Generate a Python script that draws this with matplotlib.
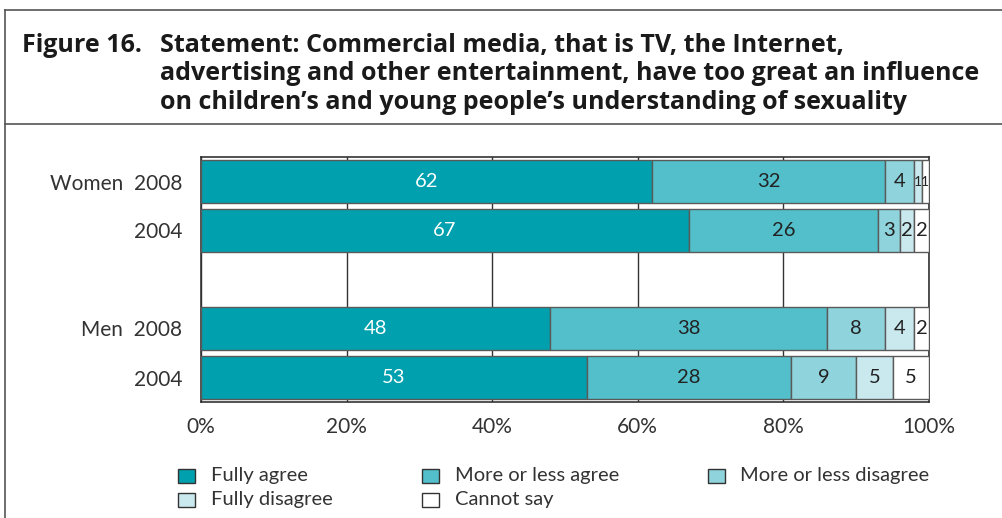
import matplotlib
matplotlib.use("Agg")
import matplotlib.pyplot as plt
from matplotlib.patches import Rectangle
from matplotlib.lines import Line2D

plt.rcParams['font.family'] = ['Lato', 'DejaVu Sans']

# Survey responses (%)
row_labels = ["Women  2008", "2004", "", "Men  2008", "2004"]
categories = ["Fully agree", "More or less agree", "More or less disagree",
              "Fully disagree", "Cannot say"]
women_2008 = [62, 32, 4, 1, 1]
women_2004 = [67, 26, 3, 2, 2]
men_2008 = [48, 38, 8, 4, 2]
men_2004 = [53, 28, 9, 5, 5]
rows = [women_2008, women_2004, None, men_2008, men_2004]

colors = ["#00a0ae", "#52bfcb", "#8fd3dc", "#c9e9ee", "#ffffff"]
label_colors = ["white", "#222222", "#222222", "#222222", "#222222"]
xticks = [0, 20, 40, 60, 80, 100]
xticklabels = ["0%", "20%", "40%", "60%", "80%", "100%"]

fig = plt.figure(figsize=(10.02, 5.18), dpi=100)

# Outer frame and title separator
frame_kw = dict(color="#555555", lw=1.2, transform=fig.transFigure)
fig.add_artist(Line2D([5/1002, 1.0], [1 - 10/518] * 2, **frame_kw))
fig.add_artist(Line2D([5/1002] * 2, [1 - 10/518, 0.0], **frame_kw))
fig.add_artist(Line2D([5/1002, 1.0], [1 - 124/518] * 2, **frame_kw))

title_kw = dict(fontsize=18, fontweight="bold", color="#1a1a1a",
                va="baseline", family=["Open Sans", "DejaVu Sans"])
fig.text(22/1002, 1 - 52/518, "Figure 16.", **title_kw)
title_lines = ["Statement: Commercial media, that is TV, the Internet,",
               "advertising and other entertainment, have too great an influence",
               "on children\u2019s and young people\u2019s understanding of sexuality"]
for i, line in enumerate(title_lines):
    fig.text(160/1002, 1 - (52 + 28.5 * i)/518, line, **title_kw)

ax = fig.add_axes([201/1002, 1 - 402/518, 728/1002, 245/518])

for y, vals in enumerate(rows):
    if vals is None:
        continue
    left = 0
    for k, v in enumerate(vals):
        ax.barh(y, v, left=left, height=0.86, color=colors[k],
                edgecolor="#5a5a5a", linewidth=1.0, zorder=3)
        ax.text(left + v / 2, y, str(v), ha="center", va="center",
                fontsize=14.5 if v > 1 else 10, color=label_colors[k],
                zorder=4)
        left += v

ax.set_xlim(0, 100)
ax.set_ylim(4.5, -0.5)
ax.set_yticks(range(len(row_labels)))
ax.set_yticklabels(row_labels, fontsize=15, color="#333333")
ax.set_xticks(xticks)
ax.set_xticklabels(xticklabels, fontsize=15, color="#333333")
ax.tick_params(length=0, pad=11, axis="x")
ax.tick_params(length=0, pad=13.5, axis="y")
ax.xaxis.grid(True, color="#333333", lw=1.0, zorder=0)
for s in ax.spines.values():
    s.set_color("#333333")
    s.set_linewidth(1.2)

# Legend laid out in rows of three
leg_box_x = [178, 422, 708]
leg_text_x = [211, 455, 740]
leg_y = [476, 500]
for i, (cat, col) in enumerate(zip(categories, colors)):
    r, c = divmod(i, 3)
    yc = 1 - leg_y[r] / 518
    fig.add_artist(Rectangle((leg_box_x[c] / 1002, yc - 7/518), 17/1002, 14/518,
                             facecolor=col, edgecolor="#333333", lw=1.0,
                             transform=fig.transFigure))
    fig.text(leg_text_x[c] / 1002, yc, cat, fontsize=14.5, color="#333333",
             va="center")

fig.savefig("out.png", dpi=100)
